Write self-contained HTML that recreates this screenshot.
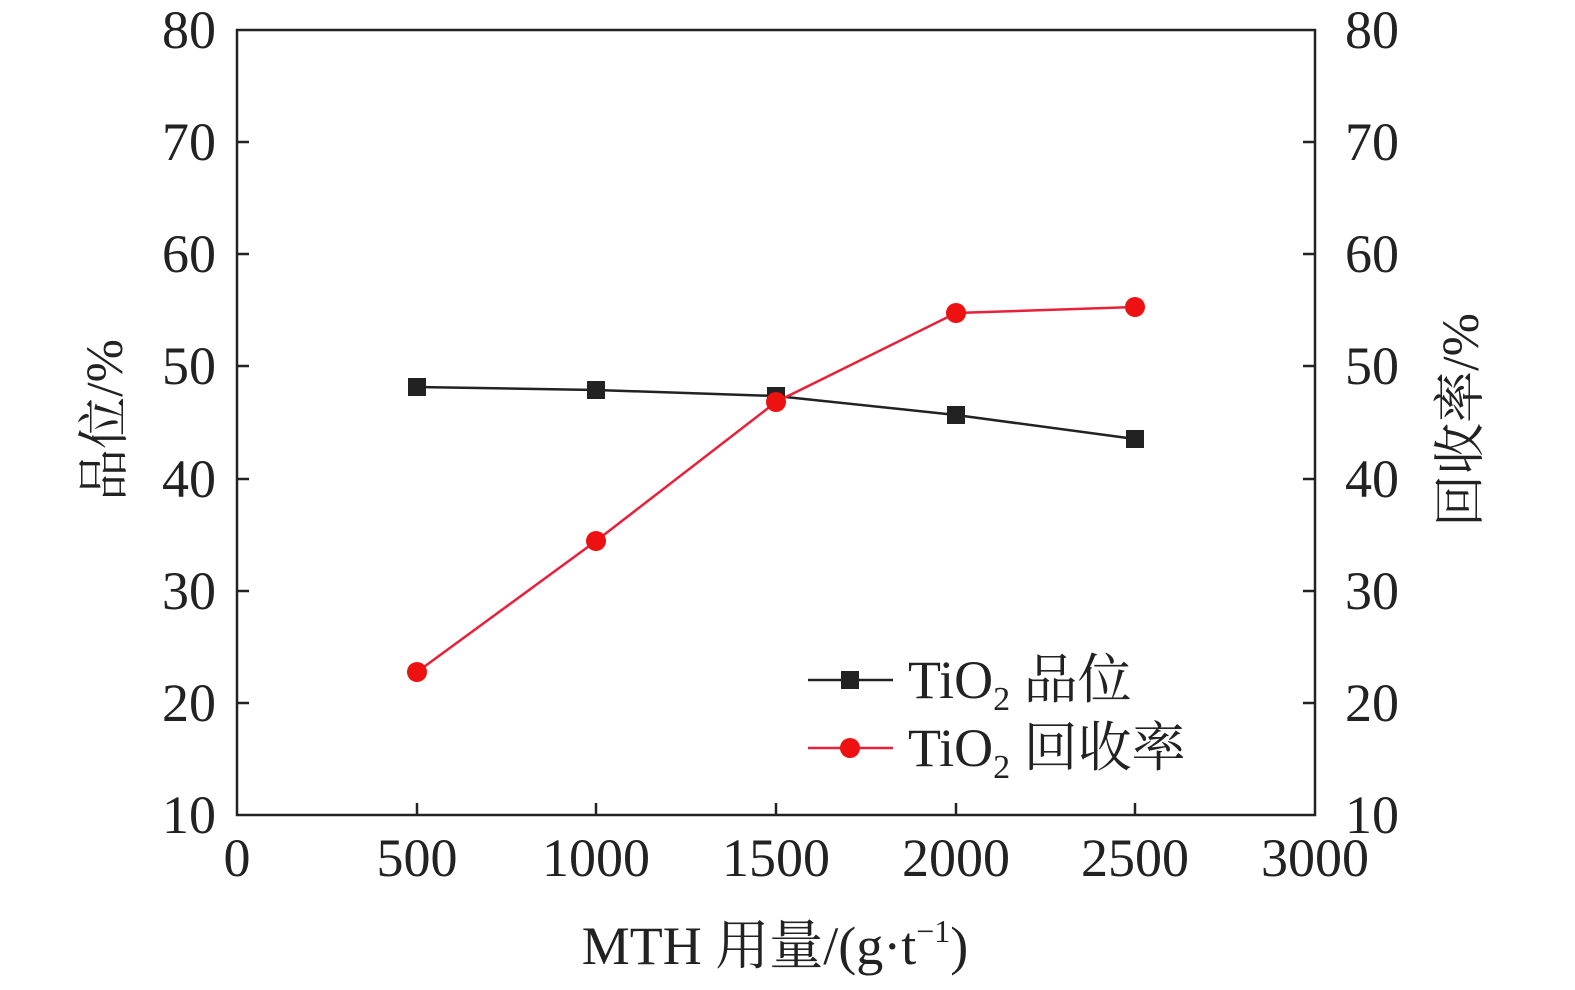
<!DOCTYPE html>
<html><head><meta charset="utf-8"><style>
html,body{margin:0;padding:0;background:#fff;}
svg text{font-family:"Liberation Serif","Noto Serif CJK SC",serif;fill:#222;}
</style></head><body>
<svg width="1575" height="985" viewBox="0 0 1575 985" xmlns="http://www.w3.org/2000/svg">
<rect x="237" y="30" width="1078" height="785" fill="none" stroke="#222" stroke-width="2.5"/>
<g stroke="#222" stroke-width="2.5">
<line x1="237" y1="142" x2="249" y2="142"/><line x1="237" y1="254" x2="249" y2="254"/><line x1="237" y1="366" x2="249" y2="366"/><line x1="237" y1="479" x2="249" y2="479"/><line x1="237" y1="591" x2="249" y2="591"/><line x1="237" y1="703" x2="249" y2="703"/>
<line x1="1303" y1="142" x2="1315" y2="142"/><line x1="1303" y1="254" x2="1315" y2="254"/><line x1="1303" y1="366" x2="1315" y2="366"/><line x1="1303" y1="479" x2="1315" y2="479"/><line x1="1303" y1="591" x2="1315" y2="591"/><line x1="1303" y1="703" x2="1315" y2="703"/>
<line x1="417" y1="815" x2="417" y2="803"/><line x1="596" y1="815" x2="596" y2="803"/><line x1="776" y1="815" x2="776" y2="803"/><line x1="956" y1="815" x2="956" y2="803"/><line x1="1135" y1="815" x2="1135" y2="803"/>
</g>
<g font-size="54" text-anchor="end">
<text x="216" y="48">80</text><text x="216" y="160">70</text><text x="216" y="272">60</text><text x="216" y="384">50</text><text x="216" y="497">40</text><text x="216" y="609">30</text><text x="216" y="721">20</text><text x="216" y="833">10</text>
</g>
<g font-size="54" text-anchor="start">
<text x="1345" y="48">80</text><text x="1345" y="160">70</text><text x="1345" y="272">60</text><text x="1345" y="384">50</text><text x="1345" y="497">40</text><text x="1345" y="609">30</text><text x="1345" y="721">20</text><text x="1345" y="833">10</text>
</g>
<g font-size="54" text-anchor="middle">
<text x="237" y="876">0</text><text x="417" y="876">500</text><text x="596" y="876">1000</text><text x="776" y="876">1500</text><text x="956" y="876">2000</text><text x="1135" y="876">2500</text><text x="1315" y="876">3000</text>
</g>
<text x="775" y="964" font-size="54" text-anchor="middle">MTH 用量/(g·t<tspan font-size="32" dy="-22">−1</tspan><tspan dy="22">)</tspan></text>
<text transform="translate(122,420) rotate(-90)" font-size="52" text-anchor="middle">品位/%</text>
<text transform="translate(1478,420) rotate(-90)" font-size="52" text-anchor="middle">回收率/%</text>
<polyline points="417,387 596,390 776,396 956,415 1135,439" fill="none" stroke="#222" stroke-width="2.5"/>
<g fill="#222">
<rect x="408" y="378" width="18" height="18"/><rect x="587" y="381" width="18" height="18"/><rect x="767" y="387" width="18" height="18"/><rect x="947" y="406" width="18" height="18"/><rect x="1126" y="430" width="18" height="18"/>
</g>
<polyline points="417,672 596,541 776,402 956,313 1135,307" fill="none" stroke="#e8203a" stroke-width="2.5"/>
<g fill="#ee1111">
<circle cx="417" cy="672" r="10"/><circle cx="596" cy="541" r="10"/><circle cx="776" cy="402" r="10"/><circle cx="956" cy="313" r="10"/><circle cx="1135" cy="307" r="10"/>
</g>
<line x1="808" y1="680" x2="893" y2="680" stroke="#222" stroke-width="2.5"/>
<rect x="841" y="671" width="18" height="18" fill="#222"/>
<text x="908" y="698" font-size="54">TiO<tspan font-size="34" dy="12">2</tspan><tspan dy="-12"> 品位</tspan></text>
<line x1="808" y1="748" x2="893" y2="748" stroke="#e8203a" stroke-width="2.5"/>
<circle cx="850" cy="748" r="10" fill="#ee1111"/>
<text x="908" y="766" font-size="54">TiO<tspan font-size="34" dy="12">2</tspan><tspan dy="-12"> 回收率</tspan></text>
</svg>
</body></html>
